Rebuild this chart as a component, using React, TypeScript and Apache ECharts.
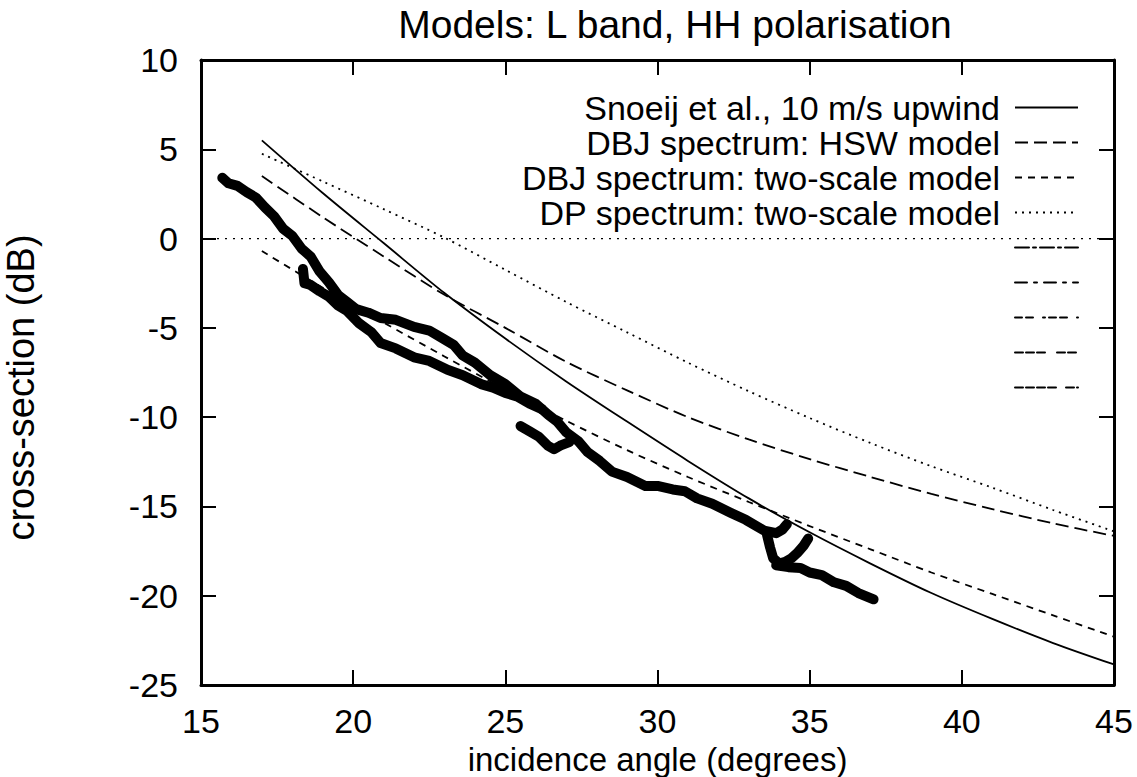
import React, { useEffect, useRef } from "react";
import * as echarts from "echarts";

const FONT = "'Liberation Sans', Arial, Helvetica, sans-serif";

// Model curves (incidence angle in degrees, cross-section in dB)
const modelAngles = [17, 19, 21, 23, 25, 27, 29, 31, 33, 35, 37, 39, 41, 43, 45];
const snoeij = [5.5, 2.55, -0.25, -3.05, -5.6, -8.0, -10.25, -12.45, -14.55, -16.45, -18.2, -19.85, -21.3, -22.65, -23.85];
const dbjHsw = [3.5, 1.2, -1.0, -3.15, -5.0, -6.9, -8.5, -10.0, -11.25, -12.35, -13.35, -14.3, -15.15, -15.95, -16.65];
const dbjTwoScale = [-0.7, -2.75, -4.7, -6.6, -8.45, -10.2, -11.85, -13.35, -14.75, -16.1, -17.4, -18.7, -19.9, -21.1, -22.3];
const dpTwoScale = [4.75, 3.2, 1.65, 0.05, -1.75, -3.55, -5.25, -6.95, -8.55, -10.05, -11.45, -12.75, -13.95, -15.2, -16.4];

// Zero axis
const zeroAxis = [[15, 0], [45, 0]];

// Measured data tracks [angle, dB]
const track1 = [
  [15.7, 3.4], [15.9, 3.1], [16.2, 2.95], [16.5, 2.6], [16.8, 2.3], [17.1, 1.75], [17.4, 1.25], [17.7, 0.55],
  [18.0, 0.15], [18.3, -0.55], [18.6, -1.0], [18.9, -1.85], [19.2, -2.45], [19.5, -3.15], [19.8, -3.55],
  [20.1, -3.95], [20.5, -4.15], [20.9, -4.45], [21.4, -4.55], [22.0, -4.95], [22.5, -5.15], [22.9, -5.55],
  [23.3, -5.95], [23.6, -6.55], [24.0, -6.95], [24.5, -7.65], [25.0, -8.15], [25.5, -8.85], [26.0, -9.25],
  [26.4, -9.85], [26.7, -10.25], [27.0, -10.85], [27.4, -11.35], [27.7, -11.95], [28.1, -12.45], [28.5, -13.05],
  [29.0, -13.35], [29.6, -13.85], [30.0, -13.85], [30.5, -14.05], [30.9, -14.15], [31.3, -14.55], [31.8, -14.85],
  [32.4, -15.35], [32.9, -15.75], [33.5, -16.35], [33.9, -16.5], [34.1, -16.3], [34.25, -16.0],
];
const track2 = [
  [18.35, -1.7], [18.4, -2.5], [18.6, -2.6], [18.9, -2.95], [19.2, -3.25], [19.5, -3.75], [19.8, -4.05],
  [20.2, -4.75], [20.6, -5.25], [20.9, -5.85], [21.4, -6.15], [22.0, -6.65], [22.5, -6.85], [23.1, -7.35],
  [23.6, -7.65], [24.2, -8.15], [24.6, -8.35], [25.0, -8.65], [25.4, -8.85], [25.8, -9.25], [26.2, -9.55],
];
const track3 = [
  [25.5, -10.5], [25.8, -10.8], [26.1, -11.1], [26.4, -11.6], [26.6, -11.8], [26.8, -11.6], [27.1, -11.4],
];
const track4 = [
  [33.9, -18.3], [34.3, -18.4], [34.7, -18.45], [35.0, -18.7], [35.4, -18.85], [35.8, -19.25],
  [36.2, -19.45], [36.6, -19.85], [37.1, -20.2],
];
const track5 = [
  [33.6, -16.6], [33.7, -17.3], [33.8, -17.9], [34.0, -18.2], [34.2, -18.1], [34.4, -17.9],
  [34.6, -17.6], [34.8, -17.2], [34.95, -16.8],
];

const xTicks = { min: 15, max: 45, step: 5 };
const yTicks = { min: -25, max: 10, step: 5 };

const title = "Models: L band, HH polarisation";
const xName = "incidence angle (degrees)";
const yName = "cross-section (dB)";
const modelNames = [
  "Snoeij et al., 10 m/s upwind",
  "DBJ spectrum: HSW model",
  "DBJ spectrum: two-scale model",
  "DP spectrum: two-scale model",
];
const trackNames = [" ", "  ", "   ", "    ", "     "];

export default function App() {
  const ref = useRef<HTMLDivElement>(null);
  useEffect(() => {
    if (!ref.current) return;
    const chart = echarts.init(ref.current, null, { renderer: "svg" });
    const pair = (ys: number[]) => modelAngles.map((a, i) => [a, ys[i]]);
    const modelStyles: any[] = [
      { width: 1.8, type: "solid" },
      { width: 1.8, type: [13, 6] },
      { width: 1.8, type: [7, 6] },
      { width: 1.8, type: [2, 5] },
    ];
    const modelData = [snoeij, dbjHsw, dbjTwoScale, dpTwoScale];
    const trackData = [track1, track2, track3, track4, track5];
    const trackLegendDash = [
      [14, 4, 3, 4],
      [12, 7, 3, 7],
      [7, 4, 7, 10, 2, 4],
      [8, 3, 8, 3, 8, 12],
      [8, 3, 8, 3, 8, 3, 8, 10],
    ];
    const axisLine = { show: true, onZero: false, lineStyle: { color: "#000", width: 3 } };
    const axisTick = { show: true, inside: true, length: 15, lineStyle: { color: "#000", width: 2 } };
    const tickStyle = { fontSize: 34, color: "#000", fontFamily: FONT };

    const series: any[] = [];
    modelNames.forEach((n, i) => {
      series.push({
        name: n,
        type: "line",
        data: pair(modelData[i]),
        smooth: 0.3,
        symbol: "none",
        showSymbol: false,
        lineStyle: { color: "#000", ...modelStyles[i] },
        z: 3,
      });
    });
    trackNames.forEach((n, i) => {
      series.push({
        name: n,
        type: "line",
        data: trackData[i],
        symbol: "none",
        showSymbol: false,
        lineStyle: { color: "#000", width: 10, join: "round", cap: "round" },
        z: 2,
      });
    });
    series.push({
      name: "zero",
      type: "line",
      data: zeroAxis,
      symbol: "none",
      showSymbol: false,
      lineStyle: { color: "#000", width: 1.3, type: [2, 6] },
      z: 1,
    });

    chart.setOption({
      animation: false,
      backgroundColor: "#fff",
      title: {
        text: title,
        left: 670,
        textAlign: "center",
        top: 0,
        textStyle: { fontSize: 39, fontWeight: "normal", color: "#000", fontFamily: FONT },
      },
      legend: {
        show: true,
        orient: "vertical",
        align: "right",
        right: 58,
        top: 90,
        padding: 0,
        itemGap: 0,
        itemWidth: 63,
        itemHeight: 35,
        selectedMode: false,
        itemStyle: { color: "rgba(0,0,0,0)", borderWidth: 0, opacity: 0 },
        textStyle: { fontSize: 34, lineHeight: 35, color: "#000", fontFamily: FONT, padding: [0, 10, 0, 0] },
        data: [
          ...modelNames.map((n, i) => ({ name: n, lineStyle: { width: 1.8, type: modelStyles[i].type } })),
          ...trackNames.map((n, i) => ({ name: n, lineStyle: { width: 2, type: trackLegendDash[i] } })),
        ],
      },
      grid: {
        left: 201,
        right: 23,
        top: 60,
        bottom: 92,
        containLabel: false,
        outerBoundsMode: "none",
      },
      xAxis: [
        {
          type: "value",
          position: "bottom",
          min: xTicks.min,
          max: xTicks.max,
          interval: xTicks.step,
          axisLine,
          axisTick,
          splitLine: { show: false },
          axisLabel: { ...tickStyle, margin: 19, showMinLabel: true, showMaxLabel: true, hideOverlap: false },
          name: xName,
          nameLocation: "middle",
          nameGap: 49,
          nameTextStyle: { fontSize: 33, color: "#000", fontFamily: FONT },
        },
        {
          type: "value",
          position: "top",
          min: xTicks.min,
          max: xTicks.max,
          interval: xTicks.step,
          axisLine,
          axisTick,
          splitLine: { show: false },
          axisLabel: { show: false },
        },
      ],
      yAxis: [
        {
          type: "value",
          position: "left",
          min: yTicks.min,
          max: yTicks.max,
          interval: yTicks.step,
          axisLine,
          axisTick,
          splitLine: { show: false },
          axisLabel: { ...tickStyle, margin: 23, showMinLabel: true, showMaxLabel: true, hideOverlap: false },
          name: yName,
          nameLocation: "middle",
          nameGap: 161,
          nameTextStyle: { fontSize: 38, color: "#000", fontFamily: FONT, padding: [0, 30, 0, 0] },
        },
        {
          type: "value",
          position: "right",
          min: yTicks.min,
          max: yTicks.max,
          interval: yTicks.step,
          axisLine,
          axisTick,
          splitLine: { show: false },
          axisLabel: { show: false },
        },
      ],
      series,
    });
    return () => chart.dispose();
  }, []);
  return (
    <div
      ref={ref}
      style={{ position: "fixed", left: 0, top: 0, width: 1137, height: 777, background: "#fff" }}
    />
  );
}
